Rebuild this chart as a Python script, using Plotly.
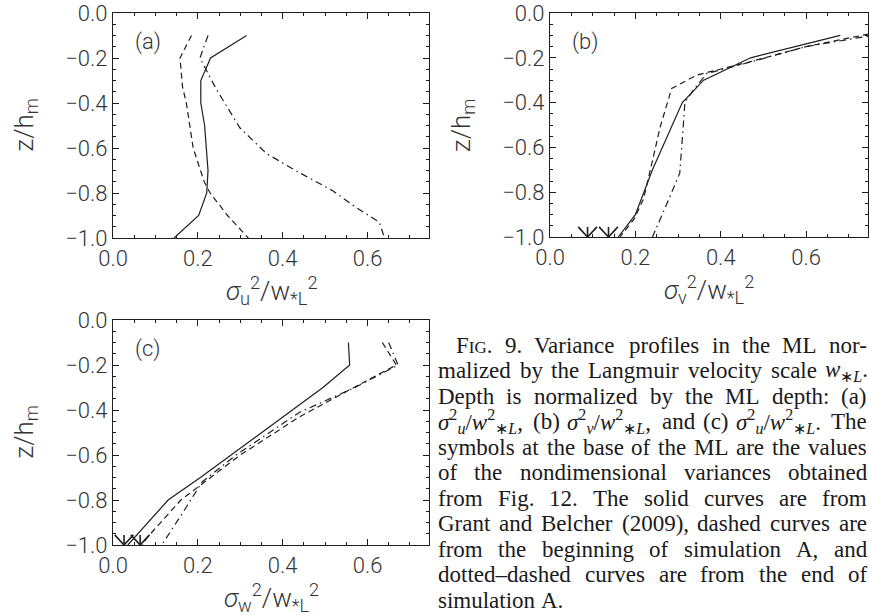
import re
import plotly.graph_objects as go

# ---- Panel (a): sigma_u^2 / w*L^2 profiles ----
a_solid_z = [-0.1, -0.2, -0.3, -0.4, -0.5, -0.7, -0.8, -0.9, -1.0]
a_solid_v = [0.315, 0.23, 0.207, 0.207, 0.216, 0.224, 0.221, 0.202, 0.144]
a_dash_z = [-0.1, -0.2, -0.33, -0.4, -0.6, -0.75, -0.8, -0.9, -1.0]
a_dash_v = [0.185, 0.158, 0.164, 0.173, 0.189, 0.215, 0.229, 0.27, 0.319]
a_dd_z = [-0.1, -0.2, -0.34, -0.51, -0.625, -0.71, -0.79, -0.86, -0.93, -1.0]
a_dd_v = [0.224, 0.205, 0.244, 0.299, 0.362, 0.44, 0.518, 0.57, 0.628, 0.64]

# ---- Panel (b): sigma_v^2 / w*L^2 profiles ----
b_solid_z = [-0.1, -0.2, -0.3, -0.4, -0.7, -0.9, -1.0]
b_solid_v = [0.68, 0.47, 0.36, 0.31, 0.24, 0.2, 0.16]
b_dash_z = [-0.085, -0.15, -0.218, -0.277, -0.337, -0.51, -0.66, -0.83, -0.92, -1.0]
b_dash_v = [0.77, 0.6, 0.468, 0.344, 0.285, 0.258, 0.24, 0.219, 0.197, 0.164]
b_dd_z = [-0.095, -0.15, -0.22, -0.27, -0.344, -0.4, -0.51, -0.715, -0.82, -1.0]
b_dd_v = [0.77, 0.6, 0.468, 0.367, 0.336, 0.316, 0.312, 0.304, 0.281, 0.24]
b_symbols = [0.088, 0.137]

# ---- Panel (c): sigma_w^2 / w*L^2 profiles ----
c_solid_z = [-0.1, -0.2, -0.3, -0.4, -0.5, -0.6, -0.7, -0.8, -0.9, -1.0]
c_solid_v = [0.555, 0.558, 0.495, 0.423, 0.351, 0.278, 0.206, 0.13, 0.083, 0.035]
c_dash_z = [-0.1, -0.2, -0.31, -0.43, -0.6, -0.8, -0.97, -1.0]
c_dash_v = [0.635, 0.668, 0.558, 0.44, 0.3, 0.16, 0.079, 0.07]
c_dd_z = [-0.1, -0.2, -0.3, -0.41, -0.6, -0.72, -0.84, -1.0]
c_dd_v = [0.65, 0.672, 0.57, 0.44, 0.29, 0.21, 0.17, 0.115]
c_symbols = [0.026, 0.064]

# axis layout shared by all panels
X_RANGE = [0.0, 0.745]
Z_RANGE = [-1.0, 0.0]
BASE_Z = -1.0

W, H = 869, 615
INK = "#1e1e1e"
TICK_FONT = dict(family="Roboto, DejaVu Sans, sans-serif", size=22, color="#333", weight=300)
TITLE_FONT = dict(TICK_FONT, size=26)
CAP_SIZE = 23
CAP_FONT = dict(family="Liberation Serif, serif", size=CAP_SIZE, color="#1a1a1a")

# plot-area boxes in pixels: (left, top, right, bottom)
boxes = {
    "a": (113, 13, 429, 238),
    "b": (550, 13, 868, 237),
    "c": (113, 320, 429, 545),
}

fig = go.Figure()


def ax_names(i):
    return ("x" if i == 1 else f"x{i}"), ("y" if i == 1 else f"y{i}")


def add_profiles(i, series):
    xa, ya = ax_names(i)
    for vals, depth, dash in series:
        fig.add_trace(go.Scatter(
            x=vals, y=depth, mode="lines", xaxis=xa, yaxis=ya,
            line=dict(color=INK, width=1.2, dash=dash),
            showlegend=False, hoverinfo="skip"))


def add_symbols(i, xs):
    # downward arrow heads marking the base-of-ML values
    xa, ya = ax_names(i)
    dx, dz = 0.022, 0.045
    px, pz = [], []
    for v in xs:
        px += [v - dx, v, v + dx, None, v, v, None]
        pz += [BASE_Z + dz, BASE_Z, BASE_Z + dz, None, BASE_Z + dz, BASE_Z, None]
    fig.add_trace(go.Scatter(
        x=px, y=pz, mode="lines", xaxis=xa, yaxis=ya,
        line=dict(color=INK, width=1.6), showlegend=False,
        hoverinfo="skip", cliponaxis=False))


DASH = "6px,4px"
DASHDOT = "7px,4px,1.5px,4px"
add_profiles(1, [(a_solid_v, a_solid_z, "solid"), (a_dash_v, a_dash_z, DASH), (a_dd_v, a_dd_z, DASHDOT)])
add_profiles(2, [(b_solid_v, b_solid_z, "solid"), (b_dash_v, b_dash_z, DASH), (b_dd_v, b_dd_z, DASHDOT)])
add_profiles(3, [(c_solid_v, c_solid_z, "solid"), (c_dash_v, c_dash_z, DASH), (c_dd_v, c_dd_z, DASHDOT)])
add_symbols(2, b_symbols)
add_symbols(3, c_symbols)


def axis_style():
    # closed box with inward major and minor ticks on all sides
    return dict(
        showgrid=False, zeroline=False, showline=True, linecolor=INK, linewidth=1.2,
        mirror="ticks", ticks="inside", ticklen=6, tickwidth=1, tickcolor=INK,
        tickfont=TICK_FONT, tickformat=".1f", tickmode="linear", tick0=0, dtick=0.2,
        minor=dict(ticks="inside", ticklen=3, tickwidth=1, tickcolor=INK, dtick=0.05),
        automargin=False, fixedrange=True)


layout = {}
for i, key in enumerate(["a", "b", "c"], start=1):
    l, t, r, b = boxes[key]
    xn, yn = ax_names(i)
    xa = axis_style()
    xa.update(domain=[l / W, r / W], range=X_RANGE, anchor=yn)
    ya = axis_style()
    ya.update(domain=[1 - b / H, 1 - t / H], range=Z_RANGE, anchor=xn)
    layout["xaxis" if i == 1 else f"xaxis{i}"] = xa
    layout["yaxis" if i == 1 else f"yaxis{i}"] = ya

annotations = []
x_titles = {
    "a": "<i>σ</i><sub>u</sub><sup>2</sup>/w<sub>*L</sub><sup>2</sup>",
    "b": "<i>σ</i><sub>v</sub><sup>2</sup>/w<sub>*L</sub><sup>2</sup>",
    "c": "<i>σ</i><sub>w</sub><sup>2</sup>/w<sub>*L</sub><sup>2</sup>",
}
for i, key in enumerate(["a", "b", "c"], start=1):
    l, t, r, b = boxes[key]
    xd, yd = f"{ax_names(i)[0]} domain", f"{ax_names(i)[1]} domain"
    annotations.append(dict(
        text=f"({key})", xref=xd, yref=yd, x=20 / (r - l), y=1 - 29 / (b - t),
        xanchor="left", yanchor="middle", showarrow=False, font=TICK_FONT))
    annotations.append(dict(
        text=x_titles[key], xref="paper", yref="paper",
        x=(l + r) / 2 / W, y=1 - (b + 52) / H, xanchor="center", yanchor="middle",
        showarrow=False, font=TITLE_FONT))
    annotations.append(dict(
        text="z/h<sub>m</sub>", xref="paper", yref="paper",
        x=(l - 88) / W, y=1 - (t + b) / 2 / H, xanchor="center", yanchor="middle",
        textangle=-90, showarrow=False, font=TITLE_FONT))

# ---- figure caption, set justified word by word ----
# Times advance widths (1/1000 em)
TIMES = {" ": 250, "(": 333, ")": 333, "*": 500, "∗": 500, ",": 250, "-": 333, ".": 250,
         "/": 278, ":": 278, "–": 500, "σ": 600}
TIMES.update({d: 500 for d in "0123456789"})
TIMES.update(dict(zip("ABCDEFGHIJKLMNOPQRSTUVWXYZ",
                      [722, 667, 667, 722, 611, 556, 722, 722, 333, 389, 722, 611, 889,
                       722, 722, 556, 722, 667, 556, 611, 722, 722, 944, 722, 722, 611])))
TIMES.update(dict(zip("abcdefghijklmnopqrstuvwxyz",
                      [444, 500, 444, 500, 444, 333, 500, 500, 278, 278, 500, 278, 778,
                       500, 500, 500, 500, 333, 389, 278, 500, 500, 722, 500, 500, 444])))


def word_width(html, size):
    scale, width = 1.0, 0.0
    stack = []
    for tok in re.split(r"(<[^>]+>)", html):
        if not tok:
            continue
        if tok.startswith("<"):
            if tok.startswith("</"):
                if stack:
                    scale = stack.pop()
            elif tok.startswith("<sub") or tok.startswith("<sup"):
                stack.append(scale)
                scale = scale * 0.75
            elif tok.startswith("<span"):
                stack.append(scale)
                m = re.search(r"font-size:(\d+)px", tok)
                scale = scale * (int(m.group(1)) / size if m else 1.0)
            else:
                stack.append(scale)
            continue
        for ch in tok:
            width += TIMES.get(ch, 500) * scale
    return width / 1000.0 * size


def split_words(html):
    # split on spaces that are outside of markup tags
    return re.split(r" (?![^<]*>)", html)


SC = "<span style='font-size:17px'>IG</span>"
sig = lambda c: f"<i>σ</i><sup>2</sup><sub><i>{c}</i></sub>/<i>w</i><sup>2</sup><sub>∗<i>L</i></sub>"
caption_lines = [
    f"F{SC}. 9. Variance profiles in the ML nor-",
    "malized by the Langmuir velocity scale <i>w</i><sub>∗<i>L</i></sub>.",
    "Depth is normalized by the ML depth: (a)",
    f"{sig('u')}, (b) {sig('v')}, and (c) {sig('u')}. The",
    "symbols at the base of the ML are the values",
    "of the nondimensional variances obtained",
    "from Fig. 12. The solid curves are from",
    "Grant and Belcher (2009), dashed curves are",
    "from the beginning of simulation A, and",
    "dotted–dashed curves are from the end of",
    "simulation A.",
]
CAP_LEFT, CAP_INDENT, CAP_RIGHT = 437, 455, 866
first_y, step = 345, 25.5
for k, line in enumerate(caption_lines):
    words = split_words(line)
    widths = [word_width(w, CAP_SIZE) for w in words]
    x0 = CAP_INDENT if k == 0 else CAP_LEFT
    last = k == len(caption_lines) - 1
    natural_space = 0.25 * CAP_SIZE
    if last or len(words) < 2:
        gap = natural_space
    else:
        gap = max(0.12 * CAP_SIZE, (CAP_RIGHT - x0 - sum(widths)) / (len(words) - 1))
    x = x0
    for w, wd in zip(words, widths):
        annotations.append(dict(
            text=w, xref="paper", yref="paper", x=x / W, y=1 - (first_y + k * step) / H,
            xanchor="left", yanchor="middle", showarrow=False, font=CAP_FONT,
            borderpad=0))
        x += wd + gap

fig.update_layout(
    width=W, height=H, margin=dict(l=0, r=0, t=0, b=0),
    paper_bgcolor="white", plot_bgcolor="white",
    annotations=annotations, **layout)

fig.write_html("out.html")
